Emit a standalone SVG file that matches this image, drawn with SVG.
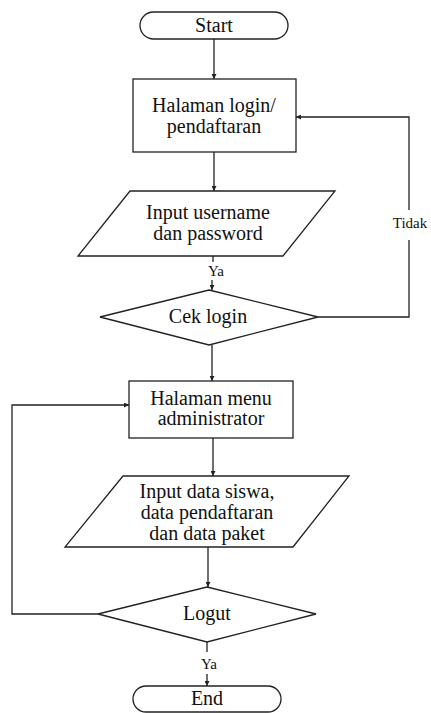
<svg xmlns="http://www.w3.org/2000/svg" width="431" height="713" viewBox="0 0 431 713">
<style>
.s{fill:#fff;stroke:#222;stroke-width:1.3}
.c{fill:none;stroke:#222;stroke-width:1.3}
.t{font-family:"Liberation Serif","Times New Roman","DejaVu Serif",serif;font-size:20px;fill:#111;text-anchor:middle}
.l{font-family:"Liberation Serif","Times New Roman","DejaVu Serif",serif;font-size:15px;fill:#111;text-anchor:middle}
</style>
<defs>
<marker id="a" viewBox="0 0 8 8" refX="8" refY="4" markerWidth="5" markerHeight="5" orient="auto" markerUnits="userSpaceOnUse">
<path d="M0,0 L8,4 L0,8 z" fill="#222"/>
</marker>
</defs>
<g id="connectors">
<path class="c" d="M214,39 V79" marker-end="url(#a)"/>
<path class="c" d="M214,152 V191" marker-end="url(#a)"/>
<path class="c" d="M213,256 V262"/>
<path class="c" d="M212,280 V290" marker-end="url(#a)"/>
<path class="c" d="M318,317 H409 V240"/>
<path class="c" d="M409,210 V117 H296" marker-end="url(#a)"/>
<path class="c" d="M212,345 V381" marker-end="url(#a)"/>
<path class="c" d="M213,438 V476" marker-end="url(#a)"/>
<path class="c" d="M208,547 V587" marker-end="url(#a)"/>
<path class="c" d="M98,614 H12 V405 H129" marker-end="url(#a)"/>
<path class="c" d="M207,642 V652"/>
<path class="c" d="M207,674 V686" marker-end="url(#a)"/>
<text class="l" x="410" y="228">Tidak</text>
<text class="l" x="216" y="276">Ya</text>
<text class="l" x="209" y="669">Ya</text>
</g>
<g id="start">
<rect class="s" x="140" y="12" width="148" height="27" rx="13.5"/>
<text class="t" x="214" y="32">Start</text>
</g>
<g id="halaman-login">
<rect class="s" x="133" y="79" width="163" height="73"/>
<text class="t" x="214" y="112">Halaman login/</text>
<text class="t" x="214" y="133">pendaftaran</text>
</g>
<g id="input-username">
<polygon class="s" points="130,191 335,191 283,256 78,256"/>
<text class="t" x="208" y="219">Input username</text>
<text class="t" x="208" y="240">dan password</text>
</g>
<g id="cek-login">
<polygon class="s" points="209,290 318,317 209,345 100,317"/>
<text class="t" x="208" y="323">Cek login</text>
</g>
<g id="menu-admin">
<rect class="s" x="129" y="381" width="164" height="57"/>
<text class="t" x="211" y="405">Halaman menu</text>
<text class="t" x="211" y="425">administrator</text>
</g>
<g id="input-data">
<polygon class="s" points="123,476 349,476 293,547 65,547"/>
<text class="t" x="207" y="498">Input data siswa,</text>
<text class="t" x="207" y="519">data pendaftaran</text>
<text class="t" x="207" y="540">dan data paket</text>
</g>
<g id="logut">
<polygon class="s" points="207,587 316,614 207,642 98,614"/>
<text class="t" x="207" y="620">Logut</text>
</g>
<g id="end">
<rect class="s" x="133" y="686" width="148" height="26" rx="13"/>
<text class="t" x="207" y="705">End</text>
</g>
</svg>
